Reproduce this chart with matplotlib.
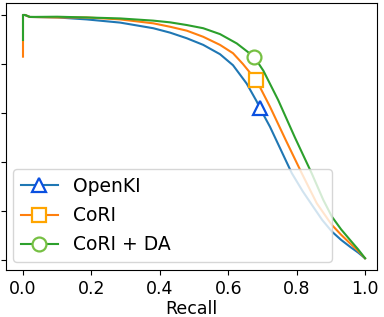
import matplotlib
matplotlib.use('Agg')
import matplotlib.pyplot as plt

# precision / recall curves
openki_r = [0.0, 0.006, 0.02, 0.1, 0.186, 0.284, 0.381, 0.430, 0.479, 0.527, 0.576, 0.614, 0.654,
            0.683, 0.693, 0.722, 0.754, 0.786, 0.818, 0.848, 0.875, 0.903, 0.93, 0.956, 0.98, 1.0]
openki_p = [1.0, 1.0, 0.992, 0.99, 0.982, 0.969, 0.946, 0.928, 0.905, 0.878, 0.84, 0.795, 0.72,
            0.648, 0.619, 0.544, 0.449, 0.354, 0.28, 0.218, 0.163, 0.116, 0.082, 0.054, 0.03, 0.007]

cori_r = [0.0, 0.0, 0.006, 0.02, 0.1, 0.186, 0.284, 0.381, 0.430, 0.479, 0.527, 0.576, 0.614,
          0.643, 0.681, 0.693, 0.722, 0.768, 0.815, 0.859, 0.903, 0.93, 0.956, 0.98, 1.0]
cori_p = [0.83, 1.0, 1.0, 0.992, 0.99, 0.99, 0.982, 0.966, 0.952, 0.936, 0.911, 0.878, 0.844,
          0.80, 0.735, 0.705, 0.626, 0.49, 0.354, 0.231, 0.143, 0.103, 0.068, 0.037, 0.007]

da_r = [0.0, 0.0, 0.006, 0.02, 0.1, 0.186, 0.284, 0.381, 0.430, 0.479, 0.527, 0.576, 0.625,
        0.676, 0.703, 0.746, 0.795, 0.844, 0.878, 0.903, 0.93, 0.956, 0.98, 1.0]
da_p = [0.898, 1.0, 1.0, 0.992, 0.993, 0.99, 0.986, 0.977, 0.970, 0.959, 0.946, 0.922, 0.884,
        0.829, 0.772, 0.653, 0.50, 0.354, 0.245, 0.177, 0.125, 0.082, 0.043, 0.007]

# index of the single marker on each curve
mark_openki = 14
mark_cori = 14
mark_da = 13

fig = plt.figure(figsize=(3.84, 3.17), dpi=100)
ax = fig.add_axes([6/384, 1 - 270/317, 371/384, 267/317])

ms = 10
mew = 1.6
ax.plot(openki_r, openki_p, color='C0', lw=1.5, marker='^', markevery=[mark_openki],
        ms=ms, mec='#0a50e0', mfc='white', mew=mew, label='OpenKI')
ax.plot(cori_r, cori_p, color='C1', lw=1.5, marker='s', markevery=[mark_cori],
        ms=ms, mec='#ffa500', mfc='white', mew=mew, label='CoRI')
ax.plot(da_r, da_p, color='C2', lw=1.5, marker='o', markevery=[mark_da],
        ms=ms, mec='#76c043', mfc='white', mew=mew, label='CoRI + DA')

ax.set_xlim(-0.0497, 1.035)
ax.set_ylim(-0.041, 1.049)
ax.set_xticks([0.0, 0.2, 0.4, 0.6, 0.8, 1.0])
ax.set_yticks([0.0, 0.2, 0.4, 0.6, 0.8, 1.0])
ax.set_yticklabels([])
ax.tick_params(axis='x', labelsize=12.5)
ax.set_xlabel('Recall', fontsize=12.5, labelpad=2)

ax.legend(loc='lower left', bbox_to_anchor=(0.0189, 0.030, 0.86, 0.326), mode='expand',
          fontsize=13.5, labelspacing=0.55, borderaxespad=0)

fig.savefig('out.png', dpi=100)
